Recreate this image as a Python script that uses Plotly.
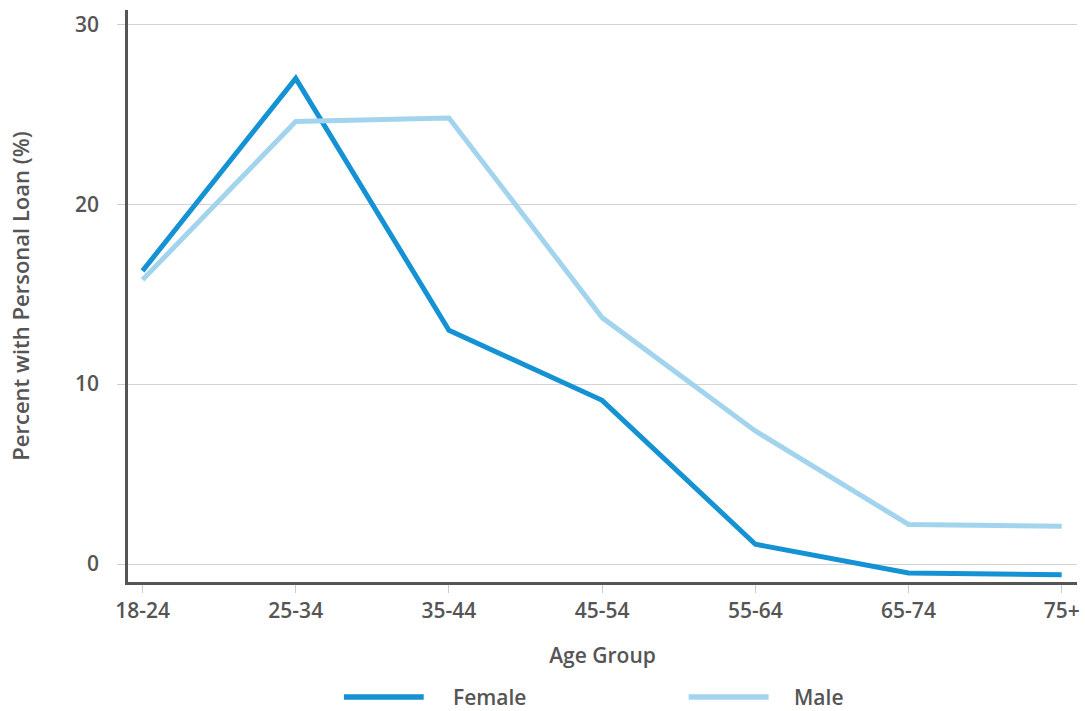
import plotly.graph_objects as go

age_groups = ["18-24", "25-34", "35-44", "45-54", "55-64", "65-74", "75+"]
female = [16.3, 27.0, 13.0, 9.1, 1.1, -0.5, -0.6]
male = [15.8, 24.6, 24.8, 13.7, 7.4, 2.2, 2.1]
series_names = ["Female", "Male"]
colors = ["#1592d3", "#a3d4ee"]
y_ticks = [0, 10, 20, 30]

FONT = "Open Sans"
TXT = "#555555"

fig = go.Figure()
for name, vals, col in zip(series_names, [female, male], colors):
    fig.add_trace(go.Scatter(x=age_groups, y=vals, mode="lines", name=name,
                             line=dict(color=col, width=5), showlegend=False))

fig.update_layout(
    width=1085, height=711,
    margin=dict(l=128, r=5, t=10, b=129),
    plot_bgcolor="white", paper_bgcolor="white",
    font=dict(family=FONT, color=TXT, size=21, weight=600),
    xaxis=dict(
        type="category", range=[-0.095, 6.1],
        showline=True, linecolor="#555555", linewidth=2.5,
        ticks="outside", ticklen=8, tickcolor="#cccccc", tickwidth=1,
        showgrid=False, zeroline=False,
        tickfont=dict(size=21, color=TXT, weight=600),
        title=dict(text="Age Group", standoff=26, font=dict(size=21, color=TXT, weight=600)),
    ),
    yaxis=dict(
        range=[-1.0, 30.8], tickvals=y_ticks,
        showline=True, linecolor="#555555", linewidth=2.5,
        ticks="outside", ticklen=8, tickcolor="#cccccc", tickwidth=1,
        ticklabelstandoff=14,
        showgrid=True, gridcolor="#d3d3d3", gridwidth=1, zeroline=False,
        tickfont=dict(size=21, color=TXT, weight=600),
        title=dict(text="Percent with Personal Loan (%)", standoff=40,
                   font=dict(size=22, color=TXT, weight=600)),
    ),
)

# custom legend (longer line symbols)
leg_y = -0.201
leg = [(0.2275, 0.3116, 0.34), (0.5908, 0.675, 0.6992)]
for (x0, x1, xt), name, col in zip(leg, series_names, colors):
    fig.add_shape(type="line", xref="paper", yref="paper", x0=x0, x1=x1, y0=leg_y, y1=leg_y,
                  line=dict(color=col, width=5.5))
    fig.add_annotation(xref="paper", yref="paper", x=xt, y=leg_y, text=name, showarrow=False,
                       xanchor="left", yanchor="middle",
                       font=dict(size=21, color=TXT, family=FONT, weight=600))

fig.write_html("out.html", config={"displayModeBar": False},
               post_script="document.body.style.margin='0';")
